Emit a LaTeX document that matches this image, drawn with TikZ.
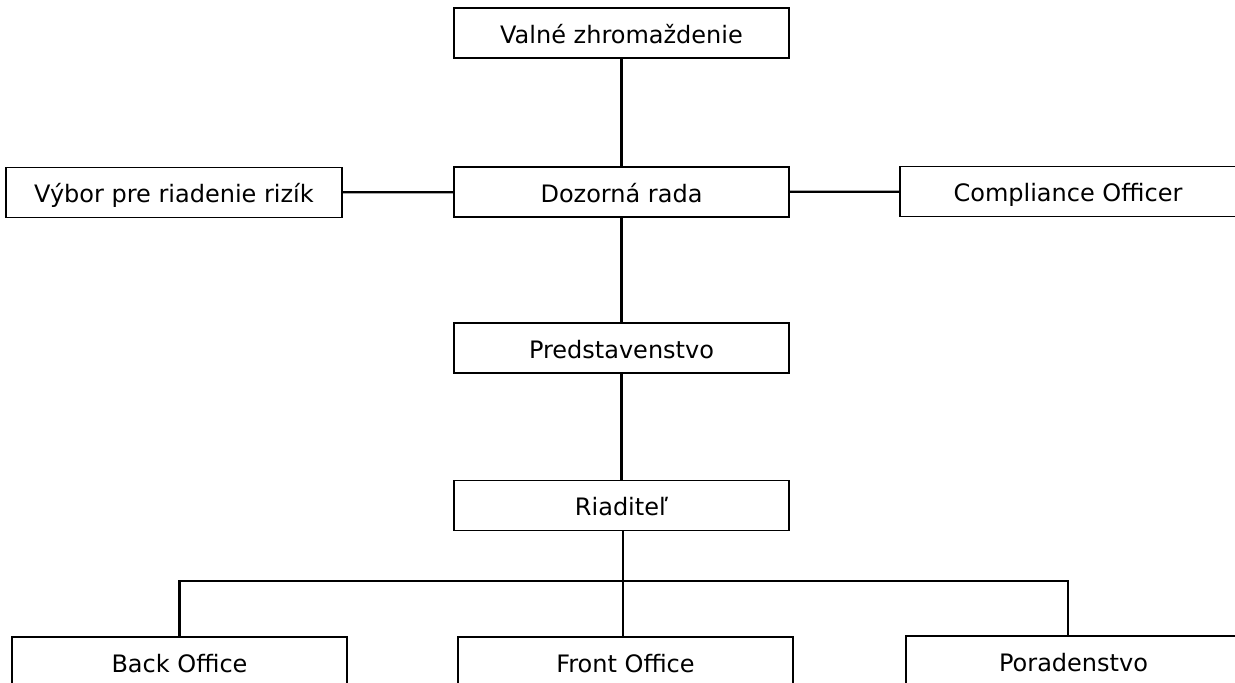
\documentclass[tikz,border=0pt]{standalone}
\usepackage{fontspec}
\setmainfont{DejaVu Sans}
\usepackage{tikz}
\usetikzlibrary{positioning}

\tikzset{
	orgbox/.style={draw, line width=1.6pt, minimum width=335pt, minimum height=50pt, inner sep=0pt, text height=20pt, text depth=0pt, font=\fontsize{24}{28}\selectfont},
	orgline/.style={line width=2.2pt}
}

\begin{document}
\begin{tikzpicture}
			\useasboundingbox (0pt,0pt) rectangle (1235pt,-683pt);

			% levels of the chart
			\node[orgbox] (valne) at (621.5pt,-33pt) {Valné zhromaždenie};
			\node[orgbox] (dozor) at (621.5pt,-192pt) {Dozorná rada};
			\node[orgbox, minimum width=336pt] (vybor) at (174pt,-192.5pt) {Výbor pre riadenie rizík};
			\node[orgbox, minimum width=336pt] (compl) at (1068pt,-191.5pt) {Compliance Officer};
			\node[orgbox] (pred) at (621.5pt,-348pt) {Predstavenstvo};
			\node[orgbox] (riad) at (621.5pt,-505.5pt) {Riaditeľ};
			\node[orgbox] (back) at (179.5pt,-662pt) {Back Office};
			\node[orgbox] (front) at (625.5pt,-662pt) {Front Office};
			\node[orgbox] (porad) at (1073.5pt,-661pt) {Poradenstvo};

			\coordinate (bus) at (623pt,-581pt);
			\coordinate (busr) at (1068pt,-581pt);

			\draw[orgline] (valne) -- (dozor);
			\draw[orgline] (vybor) -- (dozor);
			\draw[orgline] (dozor) -- (compl);
			\draw[orgline] (dozor) -- (pred);
			\draw[orgline] (pred) -- (riad);
			\draw[orgline] (riad.south -| bus) -- (front.north -| bus);
			\draw[orgline] (back.north) |- (busr) -- (busr |- porad.north);
		\end{tikzpicture}
\end{document}
